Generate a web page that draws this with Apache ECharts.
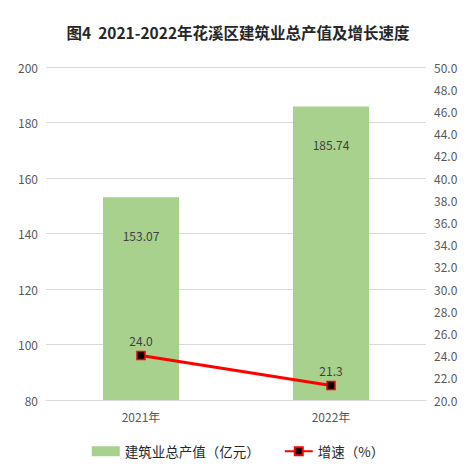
<!DOCTYPE html>
<html>
<head>
<meta charset="utf-8">
<script src="https://cdn.jsdelivr.net/npm/echarts@6/dist/echarts.min.js"></script>
<style>
  html, body { margin: 0; padding: 0; background: #fff; }
  #chart { width: 476px; height: 468px; }
</style>
</head>
<body>
<div id="chart"></div>
<script>
var years = ['2021年', '2022年'];
var output = [153.07, 185.74];
var growth = [24.0, 21.3];

var font = '"Microsoft YaHei", "Noto Sans CJK SC", sans-serif';
var axisGray = '#595959';

var chart = echarts.init(document.getElementById('chart'), null, { renderer: 'svg' });
chart.setOption({
  animation: false,
  textStyle: { fontFamily: font },
  title: {
    text: '图4  2021-2022年花溪区建筑业总产值及增长速度',
    left: 'center',
    top: 19,
    textStyle: { fontSize: 15.5, fontWeight: 'bold', color: '#262626', fontFamily: font }
  },
  grid: { left: 46, right: 50, top: 67, bottom: 68 },
  legend: {
    bottom: 5,
    itemGap: 24,
    textStyle: { color: '#262626', fontSize: 13.5, fontFamily: font },
    data: [
      { name: '建筑业总产值（亿元）', icon: 'rect', itemStyle: { color: '#A9D18E' } },
      { name: '增速（%）' }
    ],
    itemWidth: 28,
    itemHeight: 10
  },
  xAxis: {
    type: 'category',
    data: years,
    axisLine: { lineStyle: { color: '#d9d9d9' } },
    axisTick: { show: false },
    axisLabel: { color: axisGray, fontSize: 12, margin: 10 }
  },
  yAxis: [
    {
      type: 'value',
      min: 80,
      max: 200,
      interval: 20,
      axisLine: { show: false },
      axisTick: { show: false },
      axisLabel: { color: axisGray, fontSize: 12, margin: 8 },
      splitLine: { lineStyle: { color: '#d9d9d9' } }
    },
    {
      type: 'value',
      min: 20,
      max: 50,
      interval: 2,
      axisLine: { show: false },
      axisTick: { show: false },
      axisLabel: {
        color: axisGray,
        fontSize: 12,
        margin: 8,
        formatter: function(v) { return v.toFixed(1); }
      },
      splitLine: { show: false }
    }
  ],
  series: [
    {
      name: '建筑业总产值（亿元）',
      type: 'bar',
      data: output,
      barWidth: '40%',
      itemStyle: { color: '#A9D18E' },
      label: {
        show: true,
        position: 'insideTop',
        distance: 32,
        color: '#404040',
        fontSize: 12,
        formatter: function(p) { return p.value.toFixed(2); }
      }
    },
    {
      name: '增速（%）',
      type: 'line',
      yAxisIndex: 1,
      data: growth,
      symbol: 'rect',
      symbolSize: 8,
      lineStyle: { color: '#FF0000', width: 3 },
      itemStyle: { color: '#000000', borderColor: '#FF0000', borderWidth: 1.5 },
      label: {
        show: true,
        position: 'top',
        distance: 4,
        color: '#404040',
        fontSize: 12,
        formatter: function(p) { return p.value.toFixed(1); }
      }
    }
  ]
});
window.addEventListener('resize', function() { chart.resize(); });
</script>
</body>
</html>
